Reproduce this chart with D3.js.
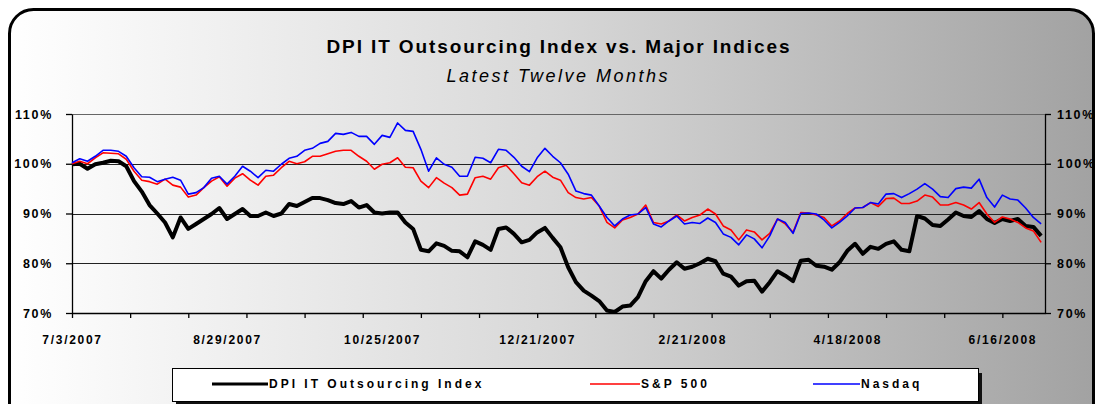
<!DOCTYPE html>
<html><head><meta charset="utf-8">
<script src="https://cdn.jsdelivr.net/npm/d3@7"></script>
<style>
html,body{margin:0;padding:0;background:#fff;}
svg{display:block;}
text{font-family:"Liberation Sans",Arial,sans-serif;fill:#000;}
</style></head>
<body>
<svg id="chart" width="1100" height="404"></svg>
<script>
const title = "DPI IT Outsourcing Index vs. Major Indices";
const subtitle = "Latest Twelve Months";
const seriesNames = ["DPI IT Outsourcing Index", "S&P 500", "Nasdaq"];
const seriesColors = ["#000000", "#ff0000", "#0000ff"];
const yTicks = [70, 80, 90, 100, 110];
const xLabels = ["7/3/2007","8/29/2007","10/25/2007","12/21/2007","2/21/2008","4/18/2008","6/16/2008"];
const nDays = 252, sampleStep = 2, tickEvery = 15, labelEvery = 40;

// values (% of start), one reading every 2 trading days
const dpi = [99.9,100,99.0,99.9,100.2,100.6,100.5,99.5,96.5,94.4,91.7,90.0,88.2,85.2,89.2,86.9,87.9,88.9,89.9,91.1,88.9,89.9,90.9,89.5,89.5,90.2,
 89.5,90,91.9,91.5,92.3,93.1,93.1,92.7,92.1,91.9,92.5,91.2,91.7,90.2,90,90.2,90.2,88.2,86.9,82.7,82.4,84,83.5,82.5,82.4,81.2,
 84.4,83.7,82.7,86.9,87.2,85.9,84.2,84.7,86.2,87.1,85.1,83.2,79.2,76.2,74.5,73.5,72.4,70.5,70.2,71.3,71.5,73.2,76.4,78.4,76.9,78.7,
 80.2,78.9,79.3,80,80.9,80.4,77.9,77.3,75.5,76.4,76.5,74.3,76.2,78.4,77.5,76.4,80.5,80.7,79.5,79.3,78.7,80.2,82.5,83.9,81.9,83.3,
 82.9,83.9,84.4,82.7,82.4,89.5,89,87.7,87.5,88.8,90.2,89.5,89.3,90.5,88.9,88.1,88.9,88.5,88.9,87.5,87.3,85.5];
const sp500 = [100,100.5,100,101.2,102.2,102.1,102,100.9,98.5,96.7,96.4,95.9,96.9,95.7,95.3,93.3,93.7,95.2,96.5,97.4,95.5,97.1,98,96.7,95.7,97.5,
 97.7,99.2,100.5,100,100.4,101.5,101.5,102,102.5,102.7,102.7,101.5,100.5,98.9,99.9,100.2,101.2,99.3,99.2,96.5,95.2,97.2,96.1,95.2,93.7,93.9,
 97.2,97.5,96.9,99.2,99.7,98,96.2,95.7,97.4,98.5,97.3,96.7,94.2,93.2,92.9,93.2,91.5,88.2,87.1,88.7,89.2,89.9,91.7,88.2,87.9,88.5,
 89.7,88.5,89.2,89.7,90.9,89.9,87.5,86.7,84.7,86.7,86.3,84.7,86,88.9,87.9,86.2,90.2,90.1,89.7,89.2,87.5,88.5,90,91.1,91.2,92.2,
 91.4,93,93.1,92,92,92.5,93.7,93.3,91.7,91.7,92.2,91.7,90.9,92.2,89.9,88.2,89.3,88.9,88.2,87.1,86.5,84.2];
const nasdaq = [100.2,101,100.5,101.5,102.7,102.7,102.5,101.5,99.2,97.4,97.3,96.4,96.9,97.3,96.7,93.9,94.2,95.2,97.1,97.5,95.9,97.5,99.5,98.5,97.2,98.7,
 98.5,99.9,101.1,101.5,102.7,103.1,104.1,104.5,106.1,105.9,106.3,105.5,105.5,103.9,105.7,105.3,108.2,106.7,106.5,102.9,98.5,101.2,99.9,99.3,97.5,97.5,
 101.3,101.1,100.2,102.9,102.7,101.3,99.5,98.4,101.2,103.1,101.5,100.2,97.9,94.5,94,93.7,91.5,89.2,87.5,88.9,89.7,89.9,91.2,87.9,87.3,88.5,
 89.5,87.9,88.2,88,89.1,88.2,85.9,85.2,83.7,85.7,84.9,83.1,85.5,88.9,88.2,86,90,90.1,89.9,88.7,87.1,88.2,89.5,91.1,91.2,92.2,
 91.9,93.9,94,93.2,94,94.9,96,94.9,93.4,93.2,95,95.3,95.1,96.9,93.2,91.3,93.7,92.9,92.7,91.1,89.2,87.9];

const series = [dpi, sp500, nasdaq];
const widths = [4, 1.6, 1.6];

const svg = d3.select("#chart");
const defs = svg.append("defs");
const grad = defs.append("linearGradient").attr("id","bg").attr("x1","0").attr("x2","1").attr("y1","0").attr("y2","0");
grad.append("stop").attr("offset","0").attr("stop-color","#ffffff");
grad.append("stop").attr("offset","0.5").attr("stop-color","#d8d8d8");
grad.append("stop").attr("offset","1").attr("stop-color","#a2a2a2");

// outer frame
svg.append("rect").attr("x",9.5).attr("y",9.5).attr("width",1084).attr("height",430)
  .attr("rx",24).attr("ry",24).attr("fill","url(#bg)").attr("stroke","#000").attr("stroke-width",3);

const L = 72, R = 1045, T = 114, B = 313;
const x = d3.scaleLinear().domain([0, nDays - 1]).range([L, R]);
const y = d3.scaleLinear().domain([70, 110]).range([B, T]);

// title
svg.append("text").attr("x",558).attr("y",53).attr("text-anchor","middle")
  .attr("textLength",463).attr("lengthAdjust","spacing")
  .style("font-size","19px").style("font-weight","bold").text(title);
svg.append("text").attr("x",557).attr("y",82).attr("text-anchor","middle")
  .attr("textLength",221).attr("lengthAdjust","spacing")
  .style("font-size","18px").style("font-style","italic").text(subtitle);

// gridlines
svg.append("g").selectAll("line").data(yTicks.filter(d => d > 70)).join("line")
  .attr("x1",L).attr("x2",R).attr("y1",d=>Math.round(y(d))+0.5).attr("y2",d=>Math.round(y(d))+0.5)
  .attr("stroke",d=>d===110?"#666":"#222").attr("stroke-width",1);

// axes
const axisFont = g => g.selectAll("text").style("font-size","12px").style("font-weight","bold").style("letter-spacing","1.7px");
const yl = svg.append("g").attr("transform",`translate(${L},0)`)
  .call(d3.axisLeft(y).tickValues(yTicks).tickFormat(d=>d+"%").tickSize(6).tickSizeOuter(0).tickPadding(13));
const yr = svg.append("g").attr("transform",`translate(${R},0)`)
  .call(d3.axisRight(y).tickValues(yTicks).tickFormat(d=>d+"%").tickSize(6).tickSizeOuter(0).tickPadding(6));
const xa = svg.append("g").attr("transform",`translate(0,${B})`)
  .call(d3.axisBottom(x).tickValues(d3.range(0, nDays, tickEvery)).tickFormat("").tickSize(5).tickSizeOuter(0));
const xl = svg.append("g").attr("transform",`translate(0,${B})`)
  .call(d3.axisBottom(x).tickValues(d3.range(0, nDays, labelEvery)).tickFormat((d)=>xLabels[d/labelEvery]).tickSize(0).tickSizeOuter(0).tickPadding(22));
xl.select(".domain").remove();
[yl, yr, xa, xl].forEach(g => { g.selectAll(".domain,line").attr("stroke","#000").attr("stroke-width",1.3); g.call(axisFont); });
yl.selectAll("text").style("font-size","12.5px");
yr.selectAll("text").style("font-size","12.5px");

// series lines
const line = d3.line().x((d,i)=>x(i*sampleStep)).y(d=>y(d));
svg.append("g").selectAll("path").data(series).join("path")
  .attr("d", line).attr("fill","none")
  .attr("stroke",(d,i)=>seriesColors[i]).attr("stroke-width",(d,i)=>widths[i])
  .attr("stroke-linejoin","round");

// legend
const lg = svg.append("g");
lg.append("rect").attr("x",176).attr("y",373).attr("width",806).attr("height",32).attr("fill","#111");
lg.append("rect").attr("x",172.5).attr("y",368.5).attr("width",806).attr("height",33).attr("fill","#fff").attr("stroke","#000").attr("stroke-width",1);
const legX = [212, 590, 813], legLen = [56, 50, 47];
const items = lg.selectAll("g.item").data(seriesNames).join("g").attr("class","item");
items.append("line").attr("x1",(d,i)=>legX[i]).attr("x2",(d,i)=>legX[i]+legLen[i])
  .attr("y1",384).attr("y2",384).attr("stroke",(d,i)=>seriesColors[i]).attr("stroke-width",(d,i)=>i===0?3:1.5);
items.append("text").attr("x",(d,i)=>legX[i]+legLen[i]+1).attr("y",388)
  .style("font-size","12px").style("font-weight","bold").style("letter-spacing","3px").text(d=>d);
</script>
</body></html>
